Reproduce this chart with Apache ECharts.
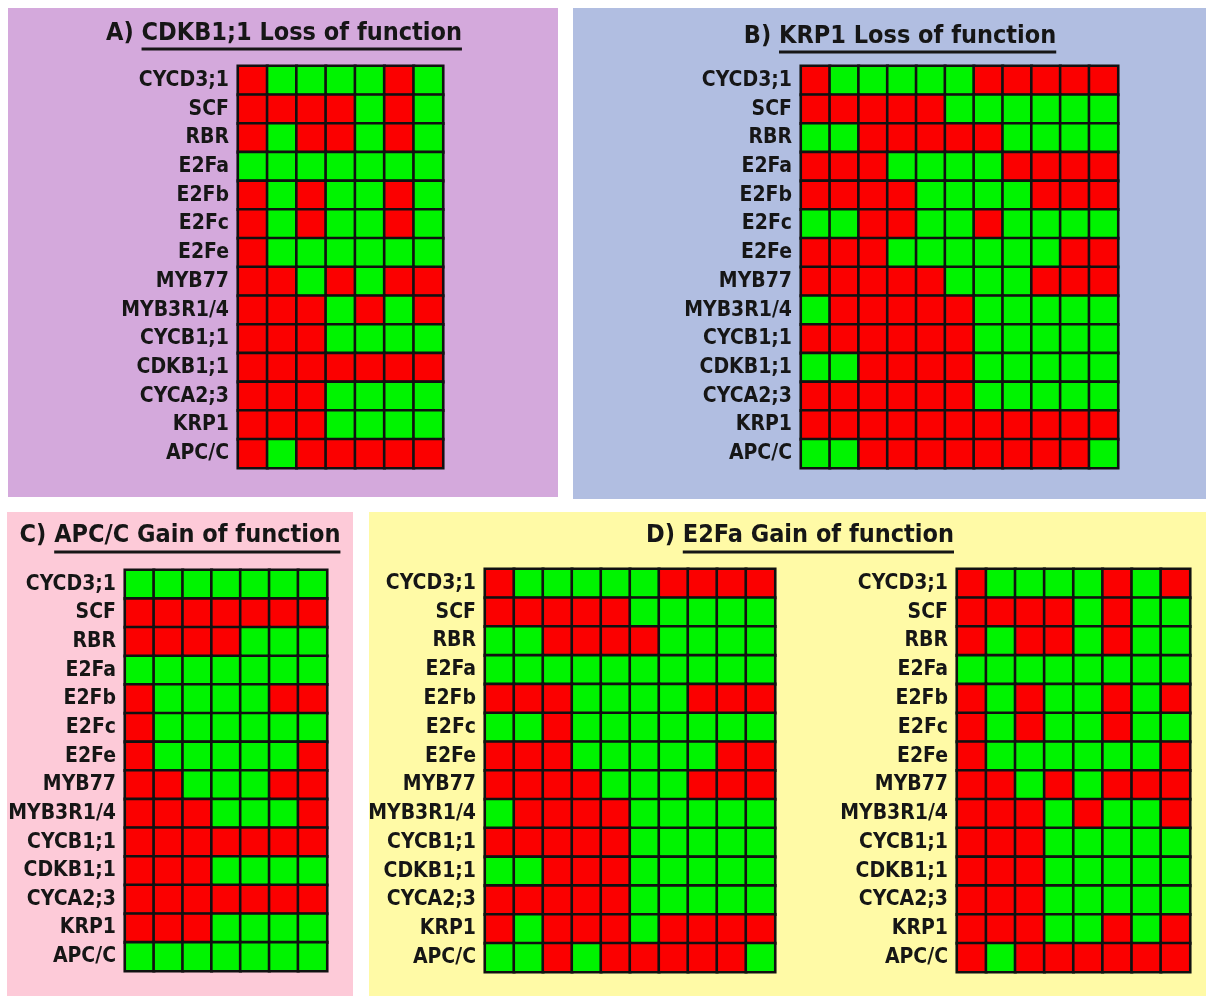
<!DOCTYPE html>
<html>
<head>
<meta charset="utf-8">
<script src="https://cdn.jsdelivr.net/npm/echarts@6/dist/echarts.min.js"></script>
<style>
  html, body { margin: 0; padding: 0; background: #fff; }
  #chart { width: 1208px; height: 996px; }
</style>
</head>
<body>
<div id="chart"></div>
<script>
'use strict';

// Node names, top to bottom (shared by every panel)
const nodes = ['CYCD3;1', 'SCF', 'RBR', 'E2Fa', 'E2Fb', 'E2Fc', 'E2Fe',
  'MYB77', 'MYB3R1/4', 'CYCB1;1', 'CDKB1;1', 'CYCA2;3', 'KRP1', 'APC/C'];

// 1 = red, 0 = green; one string per node, one char per state column
const cdkb1LossRows = [
  '1000010', '1111010', '1011010', '0000000', '1010010', '1010010', '1000000',
  '1101011', '1110101', '1110000', '1111111', '1110000', '1110000', '1011111'];

const krp1LossRows = [
  '10000011111', '11111000000', '00111110000', '11100001111', '11110000111',
  '00110010000', '11100000011', '11111000111', '01111100000', '11111100000',
  '00111100000', '11111100000', '11111111111', '00111111110'];

const apccGainRows = [
  '0000000', '1111111', '1111000', '0000000', '1000011', '1000000', '1000001',
  '1100011', '1110001', '1111111', '1110000', '1111111', '1110000', '0000000'];

const e2faGainRowsA = [
  '1000001111', '1111100000', '0011110000', '0000000000', '1110000111',
  '0010000000', '1110000011', '1111000111', '0111100000', '1111100000',
  '0011100000', '1111100000', '1011101111', '0010111110'];

const e2faGainRowsB = [
  '10000101', '11110100', '10110100', '00000000', '10100101', '10100100',
  '10000001', '11010111', '11101001', '11100000', '11100000', '11100000',
  '11100101', '10111111'];

const titleTags = ['A) ', 'B) ', 'C) ', 'D) '];
const titleTexts = ['CDKB1;1 Loss of function', 'KRP1 Loss of function',
  'APC/C Gain of function', 'E2Fa Gain of function'];

const RED = '#fb0000';
const GREEN = '#00f400';
const INK = '#161616';
const FONT = "'Liberation Sans Narrow', 'Arial Narrow', 'DejaVu Sans Condensed', sans-serif";
const TITLE_SIZE = 25;

// panel backgrounds
const panels = [
  { x: 8, y: 8, w: 550, h: 489, fill: '#d4a9dc' },
  { x: 573, y: 8, w: 633, h: 491, fill: '#b1bee1' },
  { x: 7, y: 512, w: 346, h: 484, fill: '#fdcad8' },
  { x: 369, y: 512, w: 837, h: 484, fill: '#fffaa6' },
];

// heatmap grids: rows data + placement
const blocks = [
  { rows: cdkb1LossRows, left: 238, top: 66, width: 205, height: 402 },
  { rows: krp1LossRows, left: 801, top: 66, width: 317, height: 402 },
  { rows: apccGainRows, left: 125, top: 570, width: 202, height: 401 },
  { rows: e2faGainRowsA, left: 485, top: 569, width: 290, height: 403 },
  { rows: e2faGainRowsB, left: 957, top: 569, width: 233, height: 403 },
];

// title centre x, cap-middle y, underline y
const titlePos = [
  { cx: 284, cy: 33, uy: 49 },
  { cx: 900, cy: 36, uy: 52 },
  { cx: 180, cy: 535, uy: 552 },
  { cx: 800, cy: 535, uy: 552 },
];

const toCells = (rows) => {
  const out = [];
  rows.forEach((r, yi) => {
    r.split('').forEach((c, xi) => out.push([xi, yi, Number(c)]));
  });
  return out;
};

const grid = [], xAxis = [], yAxis = [], series = [];
blocks.forEach((b, i) => {
  const ncol = b.rows[0].length;
  grid.push({ left: b.left, top: b.top, width: b.width, height: b.height, containLabel: false });
  xAxis.push({
    type: 'category', gridIndex: i, show: false,
    data: Array.from({ length: ncol }, (_, k) => String(k + 1)),
  });
  yAxis.push({
    type: 'category', gridIndex: i, inverse: true, data: nodes,
    axisLine: { show: false }, axisTick: { show: false }, splitLine: { show: false },
    axisLabel: { interval: 0, fontFamily: FONT, fontSize: 21, fontWeight: 'bold', color: INK, margin: 9 },
  });
  series.push({
    type: 'heatmap', xAxisIndex: i, yAxisIndex: i, data: toCells(b.rows),
    itemStyle: { borderColor: '#111', borderWidth: 2.6 },
    emphasis: { disabled: true },
  });
});

// measure title pieces so the underline sits under the name part only
const ctx = document.createElement('canvas').getContext('2d');
ctx.font = 'bold ' + TITLE_SIZE + 'px ' + FONT;

const graphic = [];
panels.forEach((p) => graphic.push({
  type: 'rect', z: -10, silent: true,
  shape: { x: p.x, y: p.y, width: p.w, height: p.h },
  style: { fill: p.fill },
}));
titleTexts.forEach((t, i) => {
  const p = titlePos[i];
  const tagW = ctx.measureText(titleTags[i]).width;
  const txtW = ctx.measureText(t).width;
  const x0 = p.cx - (tagW + txtW) / 2;
  graphic.push({
    type: 'text', x: x0, y: p.cy, silent: true,
    style: {
      text: titleTags[i] + t, fontFamily: FONT, fontSize: TITLE_SIZE, fontWeight: 'bold',
      fill: INK, align: 'left', verticalAlign: 'middle',
    },
  });
  graphic.push({
    type: 'line', silent: true,
    shape: { x1: x0 + tagW, y1: p.uy, x2: x0 + tagW + txtW, y2: p.uy },
    style: { stroke: INK, lineWidth: 3 },
  });
});

const chart = echarts.init(document.getElementById('chart'));
chart.setOption({
  animation: false,
  backgroundColor: '#ffffff',
  grid, xAxis, yAxis, series, graphic,
  visualMap: {
    type: 'piecewise', show: false, dimension: 2,
    seriesIndex: series.map((_, i) => i),
    pieces: [{ value: 1, color: RED }, { value: 0, color: GREEN }],
  },
});
window.addEventListener('resize', () => chart.resize());
</script>
</body>
</html>
